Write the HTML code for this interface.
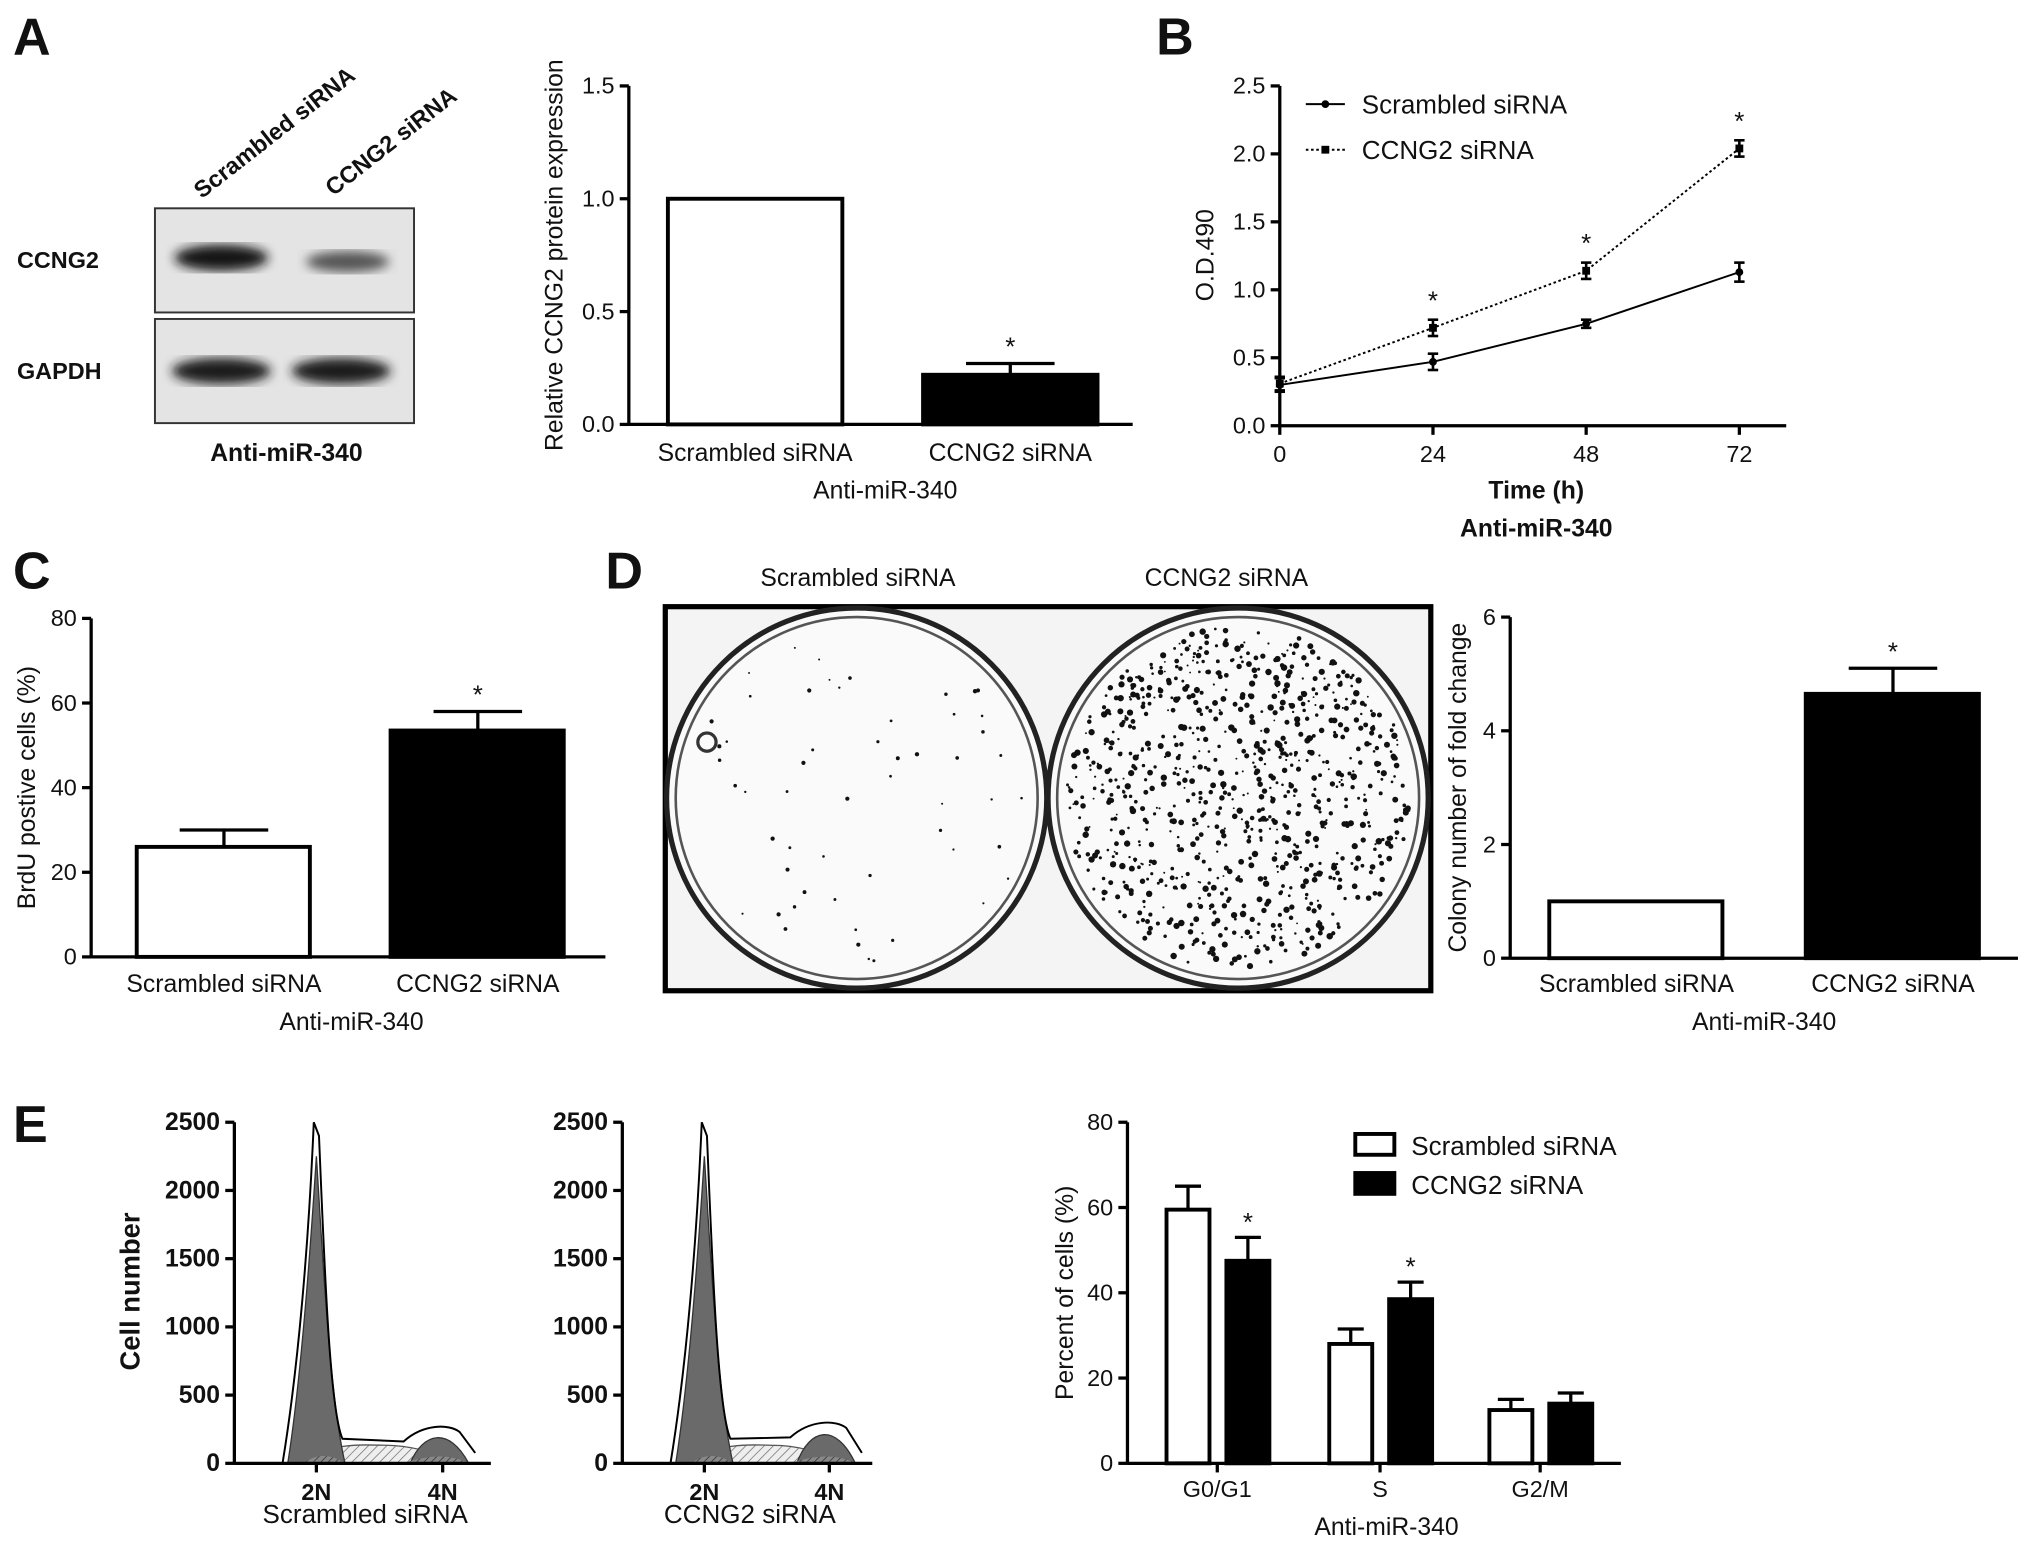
<!DOCTYPE html>
<html><head><meta charset="utf-8"><style>
html,body{margin:0;padding:0;background:#fff}
svg{display:block}
text{font-family:"Liberation Sans",Arial,sans-serif;fill:#111}
</style></head><body>
<svg id="fig" width="2031" height="1546" viewBox="0 0 1560 1187.5" xmlns="http://www.w3.org/2000/svg">
<defs>
<pattern id="hatch" width="5" height="5" patternUnits="userSpaceOnUse" patternTransform="rotate(45)"><rect width="5" height="5" fill="#eee"/><line x1="0" y1="0" x2="0" y2="5" stroke="#777" stroke-width="1.2"/></pattern>
<pattern id="hatchd" width="4" height="4" patternUnits="userSpaceOnUse" patternTransform="rotate(45)"><rect width="4" height="4" fill="#888"/><line x1="0" y1="0" x2="0" y2="4" stroke="#333" stroke-width="1.2"/></pattern>
<filter id="blur"><feGaussianBlur stdDeviation="4"/></filter>
</defs>
<g id="root"></g>
</svg>
<script>
// ---- data ----
const aCats=["Scrambled siRNA","CCNG2 siRNA"];
const aVals=[1.0,0.22];
const aErr=[0,0.05];
const aTicks=[0,0.5,1.0,1.5];
const bTimes=[0,24,48,72];
const bScr=[0.30,0.47,0.75,1.13];
const bScrErr=[0.05,0.06,0.03,0.07];
const bCcn=[0.31,0.72,1.14,2.04];
const bCcnErr=[0.05,0.06,0.06,0.06];
const bYTicks=[0,0.5,1.0,1.5,2.0,2.5];
const cVals=[26,53.5];
const cErr=[4,4.5];
const cTicks=[0,20,40,60,80];
const dVals=[1,4.65];
const dErr=[0,0.45];
const dTicks=[0,2,4,6];
const eCats=["G0/G1","S","G2/M"];
const eScr=[59.5,28,12.5];
const eScrErr=[5.5,3.5,2.5];
const eCcn=[47.5,38.5,14];
const eCcnErr=[5.5,4,2.5];
const eTicks=[0,20,40,60,80];
const hTicks=[0,500,1000,1500,2000,2500];

const NS="http://www.w3.org/2000/svg";
const root=document.getElementById('root');
function el(tag,attrs,parent,txt){const e=document.createElementNS(NS,tag);for(const k in attrs)e.setAttribute(k,attrs[k]);if(txt!==undefined)e.textContent=txt;(parent||root).appendChild(e);return e;}
function txt(x,y,s,size,opts,name){opts=opts||{};const t=el('text',{x:x,y:y,'font-size':size,'text-anchor':opts.anchor||'middle','font-weight':opts.bold?'bold':'normal'},opts.parent,s);if(opts.rot)t.setAttribute('transform',`rotate(${opts.rot} ${x} ${y})`);

return t;}
function line(x1,y1,x2,y2,w,parent,dash){const l=el('line',{x1,y1,x2,y2,stroke:'#000','stroke-width':w||2.5},parent);if(dash)l.setAttribute('stroke-dasharray',dash);return l;}
function yAxis(x,y0,y1,ticks,vmax,fmt,fs,name,bold){const g=el('g',{});


line(x,y0+1,x,y1,2.5,g);ticks.forEach(t=>{const y=y0-(y0-y1)*t/vmax;line(x-7,y,x,y,2.5,g);txt(x-11,y+6,fmt(t),fs||18,{anchor:'end',parent:g,bold:bold},'y-tick-label');});return g;}
function errBar(cx,yTop,yErr,half,g){line(cx,yTop,cx,yErr,2.5,g);line(cx-half,yErr,cx+half,yErr,2.5,g);}

[["A",10,42],["B",888,42],["C",10,452],["D",465,452],["E",10,877]].forEach(p=>txt(p[1],p[2],p[0],40,{anchor:'start',bold:true},'panel-label-'+p[0].toLowerCase()));

// ---- Panel A blot ----
{const g=el('g',{});


el('rect',{x:119,y:160,width:199,height:80,fill:'#e4e4e4',stroke:'#333','stroke-width':1.5},g);
el('rect',{x:119,y:245,width:199,height:80,fill:'#e4e4e4',stroke:'#333','stroke-width':1.5},g);
el('ellipse',{cx:170,cy:198,rx:36,ry:10,fill:'#151515',filter:'url(#blur)'},g);
el('ellipse',{cx:267,cy:201,rx:32,ry:8,fill:'#555',filter:'url(#blur)'},g);
el('ellipse',{cx:170,cy:285,rx:38,ry:10,fill:'#1a1a1a',filter:'url(#blur)'},g);
el('ellipse',{cx:262,cy:285,rx:38,ry:10,fill:'#1a1a1a',filter:'url(#blur)'},g);
txt(13,206,"CCNG2",18,{anchor:'start',bold:true,parent:g},'ccng2-row-label');
txt(13,291,"GAPDH",18,{anchor:'start',bold:true,parent:g},'gapdh-row-label');
txt(155,153,"Scrambled siRNA",18,{anchor:'start',bold:true,rot:-38,parent:g},'lane-label-scrambled');
txt(256,151,"CCNG2 siRNA",18,{anchor:'start',bold:true,rot:-38,parent:g},'lane-label-ccng2');
txt(220,354,"Anti-miR-340",19,{bold:true,parent:g},'blot-group-label');}

// ---- Panel A bars ----
{const y0=326,y1=66,vmax=1.5,ax=483;const Y=v=>y0-(y0-y1)*v/vmax;
yAxis(ax,y0,y1,aTicks,vmax,t=>t.toFixed(1),18,'a-y-axis');
const g=el('g',{});


line(ax,y0,870,y0,2.5,g);
const xs=[513,709];
aVals.forEach((v,i)=>{const r=el('rect',{x:xs[i],y:Y(v),width:134,height:y0-Y(v),fill:i?'#000':'#fff',stroke:'#000','stroke-width':3},g);


if(aErr[i]){errBar(xs[i]+67,Y(v),Y(v+aErr[i]),34,g);txt(xs[i]+67,Y(v+aErr[i])-6,"*",20,{parent:g},'significance-star');}
txt(xs[i]+67,354,aCats[i],19,{parent:g},'x-tick-label');});
txt(680,383,"Anti-miR-340",19,{parent:g},'a-x-title');
txt(432,196,"Relative CCNG2 protein expression",19,{rot:-90,parent:g},'a-y-title');}

// ---- Panel B line ----
{const y0=327,y1=66,vmax=2.5,ax=983;const Y=v=>y0-(y0-y1)*v/vmax;const X=t=>983+t*(1336-983)/72;
yAxis(ax,y0,y1,bYTicks,vmax,t=>t.toFixed(1),18,'b-y-axis');
const g=el('g',{});


line(ax,y0,1372,y0,2.5,g);
bTimes.forEach(t=>{line(X(t),y0,X(t),y0+7,2.5,g);txt(X(t),y0+28,String(t),18,{parent:g},'x-tick-label');});
const p1=el('polyline',{points:bTimes.map((t,i)=>X(t)+','+Y(bScr[i])).join(' '),fill:'none',stroke:'#000','stroke-width':1.5},g);


const p2=el('polyline',{points:bTimes.map((t,i)=>X(t)+','+Y(bCcn[i])).join(' '),fill:'none',stroke:'#000','stroke-width':1.5,'stroke-dasharray':'2 2'},g);


bTimes.forEach((t,i)=>{const x=X(t);
line(x,Y(bScr[i]-bScrErr[i]),x,Y(bScr[i]+bScrErr[i]),2,g);line(x-4,Y(bScr[i]-bScrErr[i]),x+4,Y(bScr[i]-bScrErr[i]),2,g);line(x-4,Y(bScr[i]+bScrErr[i]),x+4,Y(bScr[i]+bScrErr[i]),2,g);
el('circle',{cx:x,cy:Y(bScr[i]),r:3,fill:'#000'},g);
line(x,Y(bCcn[i]-bCcnErr[i]),x,Y(bCcn[i]+bCcnErr[i]),2,g);line(x-4,Y(bCcn[i]-bCcnErr[i]),x+4,Y(bCcn[i]-bCcnErr[i]),2,g);line(x-4,Y(bCcn[i]+bCcnErr[i]),x+4,Y(bCcn[i]+bCcnErr[i]),2,g);
el('rect',{x:x-3,y:Y(bCcn[i])-3,width:6,height:6,fill:'#000'},g);
if(i>0)txt(x,Y(bCcn[i]+bCcnErr[i])-8,"*",20,{parent:g},'significance-star');});
line(1003,80,1033,80,1.5,g);el('circle',{cx:1018,cy:80,r:3,fill:'#000'},g);
txt(1046,87,"Scrambled siRNA",20,{anchor:'start',parent:g},'legend-scrambled');
line(1003,115,1033,115,1.5,g,'2 2');el('rect',{x:1015,y:112,width:6,height:6,fill:'#000'},g);
txt(1046,122,"CCNG2 siRNA",20,{anchor:'start',parent:g},'legend-ccng2');
txt(1180,383,"Time (h)",19,{bold:true,parent:g},'b-x-title');
txt(1180,412,"Anti-miR-340",19,{bold:true,parent:g},'b-x-subtitle');
txt(932,196,"O.D.490",19,{rot:-90,parent:g},'b-y-title');}

// ---- Panel C ----
{const y0=735,y1=475,vmax=80,ax=70;const Y=v=>y0-(y0-y1)*v/vmax;
yAxis(ax,y0,y1,cTicks,vmax,t=>String(t),18,'c-y-axis');
const g=el('g',{});


line(ax,y0,465,y0,2.5,g);
const xs=[105,300];
cVals.forEach((v,i)=>{const r=el('rect',{x:xs[i],y:Y(v),width:133,height:y0-Y(v),fill:i?'#000':'#fff',stroke:'#000','stroke-width':3},g);


errBar(xs[i]+67,Y(v),Y(v+cErr[i]),34,g);
if(i)txt(xs[i]+67,Y(v+cErr[i])-6,"*",20,{parent:g},'significance-star');
txt(xs[i]+67,762,aCats[i],19,{parent:g},'x-tick-label');});
txt(270,791,"Anti-miR-340",19,{parent:g},'c-x-title');
txt(27,605,"BrdU postive cells (%)",19,{rot:-90,parent:g},'c-y-title');}

// ---- Panel D plates ----
{const g=el('g',{});


el('rect',{x:511,y:466,width:588,height:295,fill:'#f4f4f4',stroke:'#000','stroke-width':4},g);
[[658,613,'scrambled'],[951,613,'ccng2']].forEach(([cx,cy,n])=>{
const c=el('circle',{cx,cy,r:146,fill:'#fafafa',stroke:'#222','stroke-width':4},g);


el('circle',{cx,cy,r:139,fill:'none',stroke:'#555','stroke-width':2},g);});
let s=7;const rnd=()=>{s=(s*16807)%2147483647;return s/2147483647;};
function dots(cx,cy,n,rmax){for(let i=0;i<n;i++){const a=rnd()*6.283,r=Math.sqrt(rnd())*132;el('circle',{cx:cx+r*Math.cos(a),cy:cy+r*Math.sin(a),r:0.7+rnd()*rmax,fill:'#111'},g);}}
dots(658,613,55,1.0);dots(951,613,900,1.8);
el('circle',{cx:543,cy:570,r:7,fill:'none',stroke:'#333','stroke-width':2.5},g);
txt(659,450,"Scrambled siRNA",19,{parent:g},'plate-label-scrambled');
txt(942,450,"CCNG2 siRNA",19,{parent:g},'plate-label-ccng2');}

// ---- Panel D bars ----
{const y0=736,y1=474,vmax=6,ax=1160;const Y=v=>y0-(y0-y1)*v/vmax;
yAxis(ax,y0,y1,dTicks,vmax,t=>String(t),18,'d-y-axis');
const g=el('g',{});


line(ax,y0,1550,y0,2.5,g);
const xs=[1190,1387];
dVals.forEach((v,i)=>{const r=el('rect',{x:xs[i],y:Y(v),width:133,height:y0-Y(v),fill:i?'#000':'#fff',stroke:'#000','stroke-width':3},g);


if(dErr[i]){errBar(xs[i]+67,Y(v),Y(v+dErr[i]),34,g);txt(xs[i]+67,Y(v+dErr[i])-6,"*",20,{parent:g},'significance-star');}
txt(xs[i]+67,762,aCats[i],19,{parent:g},'x-tick-label');});
txt(1355,791,"Anti-miR-340",19,{parent:g},'d-x-title');
txt(1126,605,"Colony number of fold change",19,{rot:-90,parent:g},'d-y-title');}

// ---- Panel E histograms ----
function hist(ax,x2,n2,n4,peak,g4,label,name){const y0=1124,y1=862,vmax=2500;const Y=v=>y0-(y0-y1)*v/vmax;
yAxis(ax,y0,y1,hTicks,vmax,t=>String(t),19,name+'-y-axis',true);
const g=el('g',{});


el('path',{d:`M${n2-10},${y0} C${n2+10},${Y(150)} ${n2+30},${Y(140)} ${n2+60},${Y(130)} C${n4-20},${Y(120)} ${n4},${Y(60)} ${n4+15},${y0} Z`,fill:'url(#hatch)',stroke:'#555','stroke-width':1},g);
el('path',{d:`M${n2-22},${y0} C${n2-12},${Y(600)} ${n2-5},${Y(1500)} ${n2},${Y(peak-250)} C${n2+5},${Y(1500)} ${n2+10},${Y(500)} ${n2+22},${y0} Z`,fill:'#6a6a6a',stroke:'#333','stroke-width':1},g);
el('path',{d:`M${n4-25},${y0} C${n4-15},${Y(g4)} ${n4+5},${Y(g4+40)} ${n4+20},${y0} Z`,fill:'#6a6a6a',stroke:'#333','stroke-width':1},g);
el('path',{d:`M${n2-10},${y0} Q${n2+5},${Y(110)} ${n2+22},${y0} Z`,fill:'url(#hatchd)'},g);
el('path',{d:`M${n4-30},${y0} Q${n4},${Y(100)} ${n4+20},${y0} Z`,fill:'url(#hatchd)'},g);
el('path',{d:`M${n2-26},${y0} C${n2-14},${Y(700)} ${n2-6},${Y(1600)} ${n2-2},${Y(peak)} L${n2+2},${Y(peak-100)} C${n2+6},${Y(1500)} ${n2+10},${Y(400)} ${n2+20},${Y(180)} L${n4-30},${Y(g4-70)} C${n4-15},${Y(g4+60)} ${n4+5},${Y(g4+60)} ${n4+13},${Y(g4)} L${n4+25},${y0-8}`,fill:'none',stroke:'#000','stroke-width':1.5},g);
line(ax,y0,x2,y0,2.5,g);
[[n2,"2N"],[n4,"4N"]].forEach(([x,l])=>{line(x,y0,x,y0+7,2.5,g);txt(x,y0+28,l,18,{bold:true,parent:g},'x-tick-label');});
txt((ax+x2)/2+2,1170,label,20,{parent:g},name+'-title');}
hist(180,377,243,340,2500,230,"Scrambled siRNA",'histogram-scrambled');
hist(478,670,541,637,2500,260,"CCNG2 siRNA",'histogram-ccng2');
txt(107,992,"Cell number",21,{bold:true,rot:-90},'e-y-title');

// ---- Panel E bars ----
{const y0=1124,y1=862,vmax=80,ax=866;const Y=v=>y0-(y0-y1)*v/vmax;
yAxis(ax,y0,y1,eTicks,vmax,t=>String(t),18,'e-y-axis');
const g=el('g',{});


line(ax,y0,1245,y0,2.5,g);
const centers=[935,1060,1183];
eCats.forEach((c,i)=>{const cx=centers[i];
[[eScr,eScrErr,cx-39,'#fff'],[eCcn,eCcnErr,cx+7,'#000']].forEach(([vals,errs,x,f],j)=>{const v=vals[i];
const r=el('rect',{x,y:Y(v),width:33,height:y0-Y(v),fill:f,stroke:'#000','stroke-width':3},g);


errBar(x+16.5,Y(v),Y(v+errs[i]),10,g);
if(j===1&&i<2)txt(x+16.5,Y(v+errs[i])-5,"*",20,{parent:g},'significance-star');});
line(cx,y0,cx,y0+7,2.5,g);
txt(cx,1150,c,18,{parent:g},'x-tick-label');});
txt(1065,1179,"Anti-miR-340",19,{parent:g},'e-x-title');
txt(824,993,"Percent of cells (%)",19,{rot:-90,parent:g},'e-y-title');
el('rect',{x:1041,y:871,width:30,height:16,fill:'#fff',stroke:'#000','stroke-width':3},g);
txt(1084,887,"Scrambled siRNA",20,{anchor:'start',parent:g},'legend-scrambled');
el('rect',{x:1041,y:901,width:30,height:16,fill:'#000',stroke:'#000','stroke-width':3},g);
txt(1084,917,"CCNG2 siRNA",20,{anchor:'start',parent:g},'legend-ccng2');}
</script>
</body></html>
